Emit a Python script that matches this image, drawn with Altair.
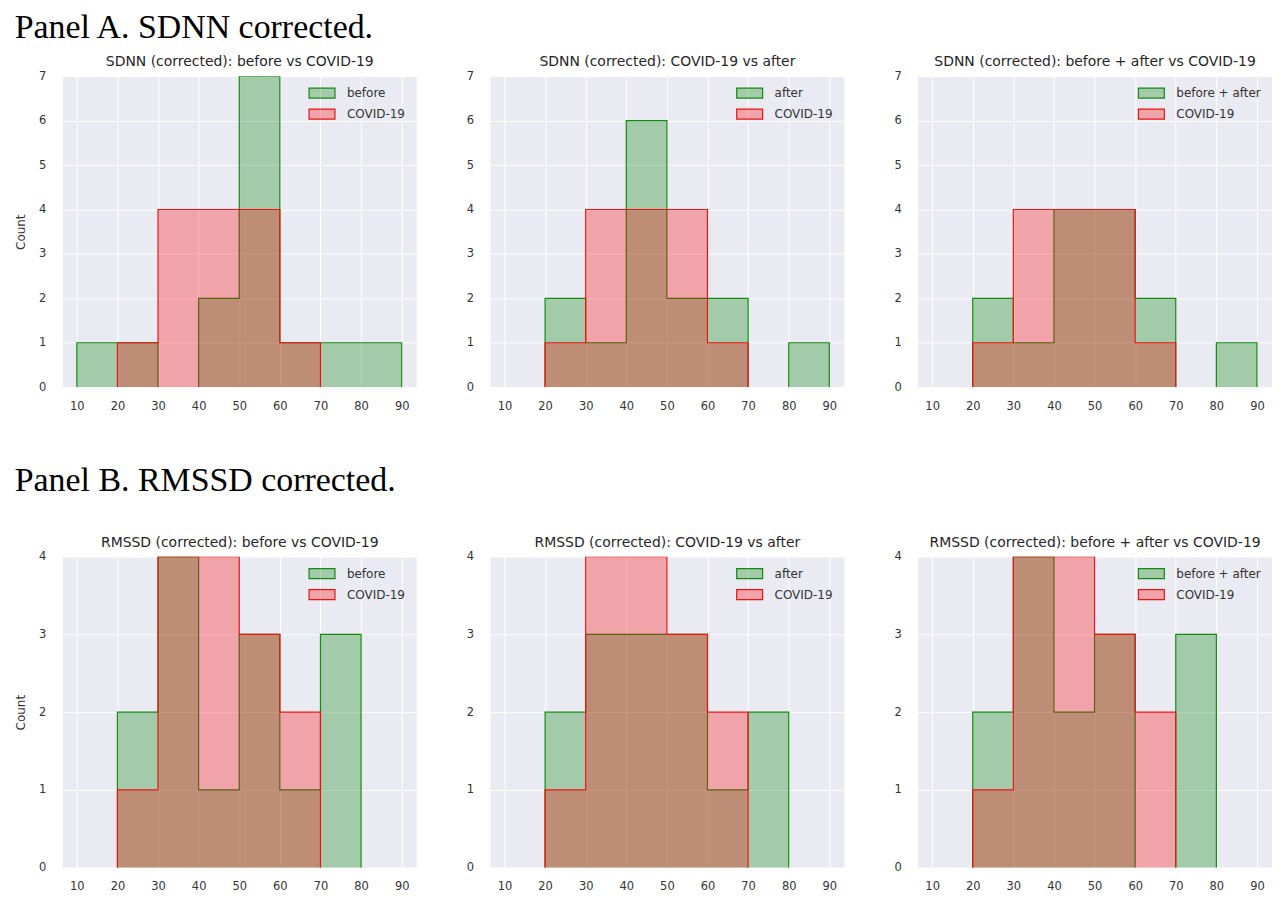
import altair as alt
import pandas as pd

# ---- data (counts per 10-unit bin, bins 10-20 ... 80-90) ----
BIN_EDGES = [10, 20, 30, 40, 50, 60, 70, 80, 90]
X_TICKS = [10, 20, 30, 40, 50, 60, 70, 80, 90]

sdnn_before = [1, 1, 0, 2, 7, 1, 1, 1]
sdnn_covid = [0, 1, 4, 4, 4, 1, 0, 0]
sdnn_after = [0, 2, 1, 6, 2, 2, 0, 1]
sdnn_before_after = [0, 2, 1, 4, 4, 2, 0, 1]

rmssd_before = [0, 2, 4, 1, 3, 1, 3, 0]
rmssd_covid = [0, 1, 4, 4, 3, 2, 0, 0]
rmssd_after = [0, 2, 3, 3, 3, 1, 2, 0]
rmssd_before_after = [0, 2, 4, 2, 3, 0, 3, 0]

panel_titles = [
    "SDNN (corrected): before vs COVID-19",
    "SDNN (corrected): COVID-19 vs after",
    "SDNN (corrected): before + after vs COVID-19",
    "RMSSD (corrected): before vs COVID-19",
    "RMSSD (corrected): COVID-19 vs after",
    "RMSSD (corrected): before + after vs COVID-19",
]
group_labels = ["before", "after", "before + after"]
row_titles = ["Panel A. SDNN corrected.", "Panel B. RMSSD corrected."]

GREEN_FILL = "rgba(0,128,0,0.3)"
RED_FILL = "rgba(255,0,0,0.3)"
GREEN_EDGE = "#118a11"
RED_EDGE = "#ee1111"
FONT = "DejaVu Sans"


def area_rows(series, counts):
    rows = [{"series": series, "x": BIN_EDGES[i], "count": c} for i, c in enumerate(counts)]
    rows.append({"series": series, "x": BIN_EDGES[-1], "count": 0})
    return rows


def line_rows(series, counts):
    rows, seg, order, i, n = [], 0, 0, 0, len(counts)
    while i < n:
        if counts[i] == 0:
            i += 1
            continue
        j = i
        while j < n and counts[j] > 0:
            j += 1
        pts = [(BIN_EDGES[i], 0)] + [(BIN_EDGES[k], counts[k]) for k in range(i, j)] + [(BIN_EDGES[j], 0)]
        for px, py in pts:
            rows.append({"series": series, "seg": seg, "order": order, "x": px, "count": py})
            order += 1
        seg += 1
        i = j
    return rows


def panel(title, label, green, red, ymax, first_col):
    domain = [label, "COVID-19"]
    leg = alt.Legend(
        title=None, orient="top-right", offset=8, padding=3,
        symbolType="M-2.6,-1H2.6V1H-2.6Z", symbolSize=100, symbolStrokeWidth=1.2,
        labelFontSize=12, labelFont=FONT, labelColor="#333333", labelOffset=19,
        rowPadding=5,
    )
    xenc = alt.X("x:Q", scale=alt.Scale(domain=[6.55, 93.7], nice=False, zero=False),
                 axis=alt.Axis(values=X_TICKS, title=None, labelPadding=13))
    yenc = alt.Y("count:Q", scale=alt.Scale(domain=[0, ymax], nice=False),
                 axis=alt.Axis(values=list(range(ymax + 1)), title="Count" if first_col else None,
                               labelPadding=17, titlePadding=11, titleFontSize=12,
                               titleFontWeight="normal", titleColor="#333333"))
    fill_enc = alt.Fill("series:N", scale=alt.Scale(domain=domain, range=[GREEN_FILL, RED_FILL]), legend=leg)
    stroke_enc = alt.Stroke("series:N", scale=alt.Scale(domain=domain, range=[GREEN_EDGE, RED_EDGE]), legend=leg)

    layers = []
    for series, counts in [(label, green), ("COVID-19", red)]:
        a = alt.Chart(pd.DataFrame(area_rows(series, counts))).mark_area(
            interpolate="step-after", clip=True
        ).encode(x=xenc, y=yenc, fill=fill_enc)
        l = alt.Chart(pd.DataFrame(line_rows(series, counts))).mark_line(
            interpolate="step-after", strokeWidth=1.2, clip=True
        ).encode(x=xenc, y=yenc, stroke=stroke_enc, detail="seg:N", order="order:Q")
        layers += [a, l]
    return alt.layer(*layers).properties(
        width=355, height=312,
        title=alt.TitleParams(title, fontSize=14, font=FONT, fontWeight="normal", color="#262626", offset=1),
    )


rowA_data = [(sdnn_before, sdnn_covid), (sdnn_after, sdnn_covid), (sdnn_before_after, sdnn_covid)]
rowB_data = [(rmssd_before, rmssd_covid), (rmssd_after, rmssd_covid), (rmssd_before_after, rmssd_covid)]
row_offsets = [10, 38]

rows = []
for r, (data, ymax) in enumerate([(rowA_data, 7), (rowB_data, 4)]):
    panels = [panel(panel_titles[r * 3 + k], group_labels[k], data[k][0], data[k][1], ymax, k == 0)
              for k in range(3)]
    row = alt.hconcat(*panels, spacing=74, bounds="flush").properties(
        title=alt.TitleParams(row_titles[r], font="Liberation Serif", fontSize=34, fontWeight="normal",
                              color="black", anchor="start", offset=row_offsets[r])
    ).resolve_scale(fill="independent", stroke="independent", x="independent", y="independent"
    ).resolve_legend(fill="independent", stroke="independent")
    rows.append(row)

chart = alt.vconcat(*rows, spacing=52).properties(
    padding={"left": 6, "top": 2, "right": 0, "bottom": 0}
).resolve_scale(fill="independent", stroke="independent", x="independent", y="independent"
).resolve_legend(fill="independent", stroke="independent"
).configure_view(
    fill="#EAEAF2", strokeWidth=0
).configure_axis(
    domain=False, ticks=False, grid=True, gridColor="white", gridWidth=1,
    labelColor="#333333", labelFont=FONT, labelFontSize=11.5, titleFont=FONT,
).configure_legend(
    labelFont=FONT
)

chart.save("out.html", embed_options={"renderer": "svg", "actions": False})
